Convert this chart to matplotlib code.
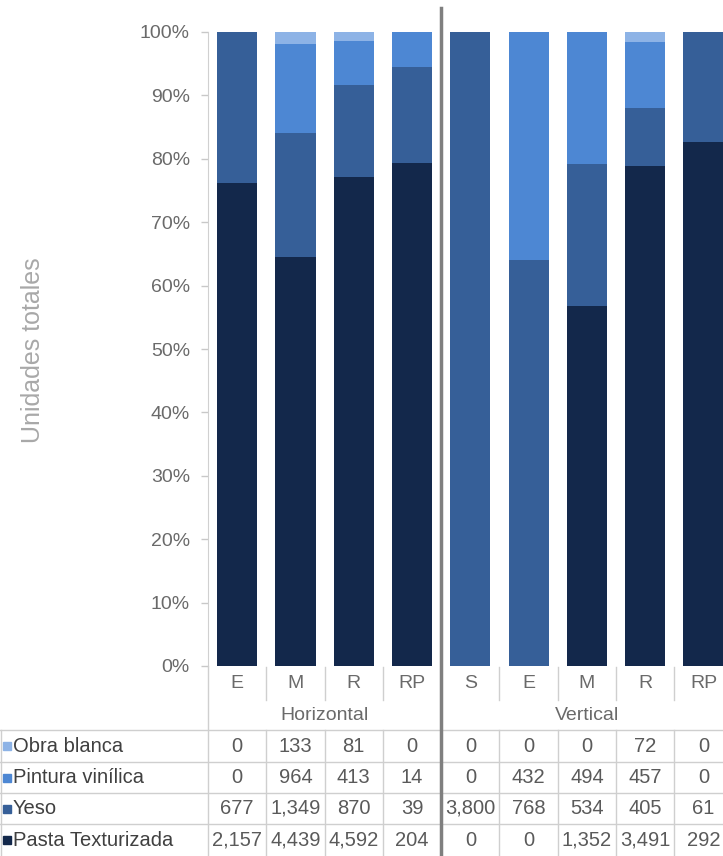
import numpy as np
import matplotlib.pyplot as plt
from matplotlib.transforms import blended_transform_factory

plt.rcParams['font.family'] = ['Liberation Sans', 'DejaVu Sans']

# units per finish type and position
categorias = ['E', 'M', 'R', 'RP', 'S', 'E', 'M', 'R', 'RP']
grupos = ['Horizontal', 'Vertical']
grupo_n = [4, 5]

series = ['Obra blanca', 'Pintura vinílica', 'Yeso', 'Pasta Texturizada']
obra = [0, 133, 81, 0, 0, 0, 0, 72, 0]
pintura = [0, 964, 413, 14, 0, 432, 494, 457, 0]
yeso = [677, 1349, 870, 39, 3800, 768, 534, 405, 61]
pasta = [2157, 4439, 4592, 204, 0, 0, 1352, 3491, 292]

colores = ['#8db3e6', '#4d87d3', '#365f98', '#13284b']

W, H = 723, 856
fig = plt.figure(figsize=(W / 100, H / 100), dpi=100)

slot = 58.3
ax = fig.add_axes([208 / W, (H - 666) / H, 9 * slot / W, 634 / H])

datos = np.array([obra, pintura, yeso, pasta], dtype=float)
pct = datos / datos.sum(axis=0) * 100
x = np.arange(len(categorias))

# stack from the bottom: Pasta, Yeso, Pintura, Obra
base = np.zeros(len(categorias))
for i in [3, 2, 1, 0]:
    ax.bar(x, pct[i], 0.69, bottom=base, color=colores[i], zorder=2)
    base += pct[i]

ax.set_xlim(-0.5, len(categorias) - 0.5)
ax.set_ylim(0, 100)
ax.set_yticks(np.arange(0, 101, 10))
ax.set_yticklabels([f'{t}%' for t in range(0, 101, 10)])
ax.tick_params(axis='y', length=5, width=1, color='#c8c8c8', pad=8,
               labelsize=14, labelcolor='#6a6a6a')
ax.set_xticks([])
for s in ['top', 'right', 'bottom']:
    ax.spines[s].set_visible(False)
ax.spines['left'].set_color('#d0d0d0')

fig.text(33 / W, 1 - 350 / H, 'Unidades totales', rotation=90, ha='center',
         va='center', fontsize=18, color='#a8a8a8')

# data table under the chart
tab = fig.add_axes([0, 0, 1, 1], zorder=3)
tab.set_xlim(0, W)
tab.set_ylim(H, 0)
tab.axis('off')
tr = blended_transform_factory(ax.transData, tab.transData)

gris = '#cfcfcf'
txt = '#5a5a5a'

for i, c in enumerate(categorias):
    tab.text(i, 684, c, transform=tr, ha='center', va='center',
             fontsize=14, color='#6a6a6a')

inicio = 0
for g, n in zip(grupos, grupo_n):
    tab.text(inicio + (n - 1) / 2, 716, g, transform=tr, ha='center',
             va='center', fontsize=14, color='#6a6a6a')
    inicio += n

filas = [730, 762, 793, 824, 856]
for y in filas[:-1]:
    tab.plot([0, W], [y, y], color=gris, lw=1)
tab.plot([1, 1], [730, 856], color=gris, lw=1)
tab.plot([208, 208], [666, 856], color=gris, lw=1)

for b in np.arange(0.5, len(categorias) - 0.5):
    if b == 3.5:
        continue
    tab.plot([b, b], [667, 700], transform=tr, color=gris, lw=1)
    tab.plot([b, b], [730, 856], transform=tr, color=gris, lw=1)

tab.plot([3.5, 3.5], [8, 856], transform=tr, color='#7f7f7f', lw=2.5)

for r, (nombre, col) in enumerate(zip(series, colores)):
    yc = (filas[r] + filas[r + 1]) / 2
    tab.plot([7], [yc], marker='s', ms=6, color=col, ls='none')
    tab.text(13, yc, nombre, ha='left', va='center', fontsize=14.5,
             color='#404040')
    for i in range(len(categorias)):
        tab.text(i, yc, f'{int(datos[r, i]):,}', transform=tr, ha='center',
                 va='center', fontsize=14.5, color=txt)

fig.savefig('out.png', dpi=100)
